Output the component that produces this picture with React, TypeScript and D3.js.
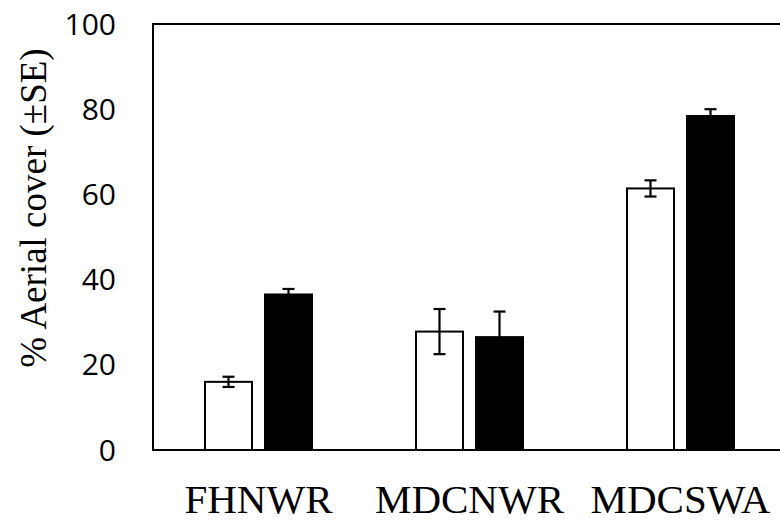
import React, { useEffect, useRef } from 'react';
import * as d3 from 'd3';

const sites = ['FHNWR', 'MDCNWR', 'MDCSWA'];
const whiteMeans = [16.0, 27.8, 61.4];
const whiteSE = [1.2, 5.3, 1.9];
const blackMeans = [36.5, 26.5, 78.4];
const blackSE = [1.3, 6.0, 1.6];
const yTicks = [0, 20, 40, 60, 80, 100];

const App = () => {
  const ref = useRef<SVGSVGElement>(null);

  useEffect(() => {
    const svg = d3.select(ref.current);
    svg.selectAll('*').remove();

    const left = 153, right = 786, top = 24, bottom = 450;

    const x = d3.scaleBand().domain(sites).range([left, right]);
    const inner = d3.scaleBand().domain(['white', 'black']).range([-53.5, 53.5]).paddingInner(0.217);
    const y = d3.scaleLinear().domain([0, 100]).range([bottom, top]);

    // frame
    svg.append('rect')
      .attr('x', left).attr('y', top)
      .attr('width', right - left).attr('height', bottom - top)
      .attr('fill', 'none').attr('stroke', '#000').attr('stroke-width', 2);

    // y tick labels
    svg.append('g').selectAll('text')
      .data(yTicks).enter().append('text')
      .attr('x', 116)
      .attr('y', d => y(d))
      .attr('dy', '0.35em')
      .attr('text-anchor', 'end')
      .attr('font-family', 'Open Sans, sans-serif')
      .attr('font-size', 30)
      .attr('fill', '#000')
      .text(d => d);

    // category labels
    svg.append('g').selectAll('text')
      .data(sites).enter().append('text')
      .attr('x', d => (x(d) as number) + x.bandwidth() / 2)
      .attr('y', 513)
      .attr('text-anchor', 'middle')
      .attr('font-family', 'Liberation Serif, Times New Roman, serif')
      .attr('font-size', 41)
      .attr('fill', '#000')
      .text(d => d);

    // y title
    svg.append('text')
      .attr('transform', 'translate(46,208) rotate(-90)')
      .attr('text-anchor', 'middle')
      .attr('font-family', 'Liberation Serif, Times New Roman, serif')
      .attr('font-size', 37)
      .attr('fill', '#000')
      .text('% Aerial cover (\u00B1SE)');

    const series = [
      { key: 'white', means: whiteMeans, se: whiteSE },
      { key: 'black', means: blackMeans, se: blackSE },
    ];

    series.forEach(s => {
      const g = svg.append('g');
      const bw = inner.bandwidth();
      const bx = (i: number) => (x(sites[i]) as number) + x.bandwidth() / 2 + (inner(s.key) as number);
      const mid = (i: number) => bx(i) + bw / 2;

      // error bars first so black bars cover the lower whisker
      const eb = g.selectAll('g.eb').data(s.means).enter().append('g');
      eb.append('line')
        .attr('x1', (d, i) => mid(i)).attr('x2', (d, i) => mid(i))
        .attr('y1', (d, i) => y(d + s.se[i])).attr('y2', (d, i) => y(d - s.se[i]))
        .attr('stroke', '#000').attr('stroke-width', 2.2);
      [1, -1].forEach(sign => {
        eb.append('line')
          .attr('x1', (d, i) => mid(i) - 6).attr('x2', (d, i) => mid(i) + 6)
          .attr('y1', (d, i) => y(d + sign * s.se[i])).attr('y2', (d, i) => y(d + sign * s.se[i]))
          .attr('stroke', '#000').attr('stroke-width', 2.2);
      });

      g.selectAll('rect').data(s.means).enter().append('rect')
        .attr('x', (d, i) => bx(i))
        .attr('y', d => y(d))
        .attr('width', bw)
        .attr('height', d => bottom - y(d))
        .attr('fill', s.key === 'white' ? 'none' : '#000')
        .attr('stroke', '#000')
        .attr('stroke-width', 2);
    });
  }, []);

  return (
    <svg ref={ref} width={780} height={523}
      style={{ position: 'absolute', left: 0, top: 0, background: '#fff' }} />
  );
};

export default App;
